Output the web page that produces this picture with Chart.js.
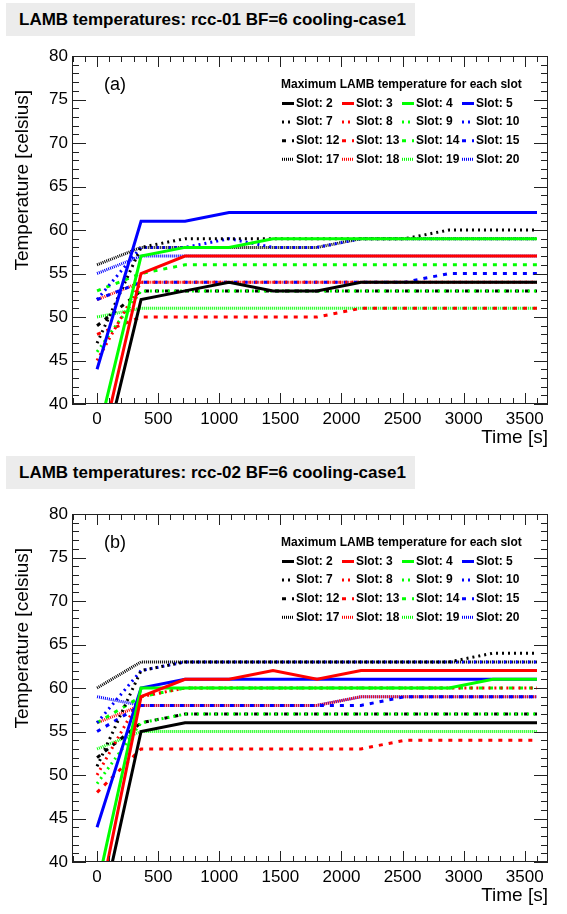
<!DOCTYPE html>
<html>
<head>
<meta charset="utf-8">
<script src="https://cdn.jsdelivr.net/npm/chart.js@4.4.1/dist/chart.umd.min.js"></script>
<style>
body { margin: 0; background: #fff; width: 567px; height: 914px; overflow: hidden; position: relative; }
.panel { position: absolute; left: 0; width: 567px; height: 457px; }
.ptitle { position: absolute; left: 6px; width: 409px; height: 33px; background: #ececec;
          font: bold 17px "Liberation Sans", Arial, sans-serif; line-height: 33px; padding-left: 13px; box-sizing: border-box; }
</style>
</head>
<body>
<div class="panel" style="top:0"><canvas id="chartA" width="567" height="457"></canvas></div>
<div class="panel" style="top:458px"><canvas id="chartB" width="567" height="457"></canvas></div>
<div class="ptitle" style="top:3px">LAMB temperatures: rcc-01 BF=6 cooling-case1</div>
<div class="ptitle" style="top:456px">LAMB temperatures: rcc-02 BF=6 cooling-case1</div>
<script>
// time axis (s) and slot numbers
const times = [0, 360, 720, 1080, 1440, 1800, 2160, 2520, 2880, 3240, 3600];
const slots = [2, 3, 4, 5, 7, 8, 9, 10, 12, 13, 14, 15, 17, 18, 19, 20];
const xTickLabels = [0, 500, 1000, 1500, 2000, 2500, 3000, 3500];
const yTickLabels = [40, 45, 50, 55, 60, 65, 70, 75, 80];

// rcc-01 (panel a)
const rcc01_s2  = [31, 52, 53, 54, 53, 53, 54, 54, 54, 54, 54];
const rcc01_s3  = [33, 55, 57, 57, 57, 57, 57, 57, 57, 57, 57];
const rcc01_s4  = [36, 57, 58, 58, 59, 59, 59, 59, 59, 59, 59];
const rcc01_s5  = [44, 61, 61, 62, 62, 62, 62, 62, 62, 62, 62];
const rcc01_s7  = [47, 58, 59, 59, 59, 59, 59, 59, 60, 60, 60];
const rcc01_s8  = [45, 54, 54, 54, 54, 54, 54, 54, 54, 54, 54];
const rcc01_s9  = [46, 53, 53, 53, 53, 53, 53, 53, 53, 53, 53];
const rcc01_s10 = [52, 58, 58, 59, 58, 58, 59, 59, 59, 59, 59];
const rcc01_s12 = [49, 53, 53, 53, 53, 53, 53, 53, 53, 53, 53];
const rcc01_s13 = [48, 50, 50, 50, 50, 50, 51, 51, 51, 51, 51];
const rcc01_s14 = [53, 55, 56, 56, 56, 56, 56, 56, 56, 56, 56];
const rcc01_s15 = [52, 54, 54, 54, 54, 54, 54, 54, 55, 55, 55];
const rcc01_s17 = [56, 58, 58, 58, 58, 58, 59, 59, 59, 59, 59];
const rcc01_s18 = [52, 54, 54, 54, 54, 54, 54, 54, 54, 54, 54];
const rcc01_s19 = [50, 51, 51, 51, 51, 51, 51, 51, 51, 51, 51];
const rcc01_s20 = [55, 57, 57, 57, 57, 57, 57, 57, 57, 57, 57];

// rcc-02 (panel b)
const rcc02_s2  = [32, 55, 56, 56, 56, 56, 56, 56, 56, 56, 56];
const rcc02_s3  = [34, 59, 61, 61, 62, 61, 62, 62, 62, 62, 62];
const rcc02_s4  = [37, 60, 60, 60, 60, 60, 60, 60, 60, 61, 61];
const rcc02_s5  = [44, 60, 61, 61, 61, 61, 61, 61, 61, 61, 61];
const rcc02_s7  = [51, 62, 63, 63, 63, 63, 63, 63, 63, 64, 64];
const rcc02_s8  = [50, 59, 60, 60, 60, 60, 60, 60, 60, 60, 60];
const rcc02_s9  = [49, 56, 57, 57, 57, 57, 57, 57, 57, 57, 57];
const rcc02_s10 = [56, 62, 63, 63, 63, 63, 63, 63, 63, 63, 63];
const rcc02_s12 = [52, 56, 57, 57, 57, 57, 57, 57, 57, 57, 57];
const rcc02_s13 = [48, 53, 53, 53, 53, 53, 53, 54, 54, 54, 54];
const rcc02_s14 = [56, 59, 60, 60, 60, 60, 60, 60, 60, 60, 60];
const rcc02_s15 = [55, 58, 58, 58, 58, 58, 58, 59, 59, 59, 59];
const rcc02_s17 = [60, 63, 63, 63, 63, 63, 63, 63, 63, 63, 63];
const rcc02_s18 = [56, 58, 58, 58, 58, 58, 59, 59, 59, 59, 59];
const rcc02_s19 = [53, 55, 55, 55, 55, 55, 55, 55, 55, 55, 55];
const rcc02_s20 = [59, 58, 58, 58, 58, 58, 59, 59, 59, 59, 59];

const rcc01 = [rcc01_s2, rcc01_s3, rcc01_s4, rcc01_s5, rcc01_s7, rcc01_s8, rcc01_s9, rcc01_s10,
               rcc01_s12, rcc01_s13, rcc01_s14, rcc01_s15, rcc01_s17, rcc01_s18, rcc01_s19, rcc01_s20];
const rcc02 = [rcc02_s2, rcc02_s3, rcc02_s4, rcc02_s5, rcc02_s7, rcc02_s8, rcc02_s9, rcc02_s10,
               rcc02_s12, rcc02_s13, rcc02_s14, rcc02_s15, rcc02_s17, rcc02_s18, rcc02_s19, rcc02_s20];

// styles: colour by column, dash by row of the legend
const colors = ['#000000', '#ff0000', '#00ff00', '#0000ff'];
const dashes = [[], [2, 4], [4, 6], [1, 1]];

const FONT = '"Liberation Sans", Helvetica, Arial, sans-serif';
Chart.defaults.font.family = FONT;
Chart.defaults.color = '#000';

// frame, inward ticks on all sides, axis titles, legend
const rootDecor = {
    id: 'rootDecor',
    afterDraw(chart, args, opts) {
        const ctx = chart.ctx;
        const a = chart.chartArea;
        const x = chart.scales.x, y = chart.scales.y;
        ctx.save();
        ctx.strokeStyle = '#222';
        ctx.lineWidth = 1;
        ctx.strokeRect(a.left + 0.5, a.top + 0.5, a.right - a.left - 1, a.bottom - a.top - 1);
        ctx.beginPath();
        for (let v = -200; v <= x.max; v += 100) {
            if (v < x.min) continue;
            const px = Math.round(x.getPixelForValue(v)) + 0.5;
            const len = v % 500 === 0 ? 11 : 6;
            ctx.moveTo(px, a.bottom); ctx.lineTo(px, a.bottom - len);
            ctx.moveTo(px, a.top); ctx.lineTo(px, a.top + len);
        }
        for (let v = y.min; v <= y.max; v += 1) {
            const py = Math.round(y.getPixelForValue(v)) + 0.5;
            const len = v % 5 === 0 ? 14 : 7;
            ctx.moveTo(a.left, py); ctx.lineTo(a.left + len, py);
            ctx.moveTo(a.right, py); ctx.lineTo(a.right - len, py);
        }
        ctx.stroke();

        // axis titles
        ctx.fillStyle = '#000';
        ctx.font = '19px ' + FONT;
        ctx.textAlign = 'right';
        ctx.textBaseline = 'middle';
        ctx.fillText('Time [s]', a.right, 438);
        ctx.save();
        ctx.translate(23, 90);
        ctx.rotate(-Math.PI / 2);
        ctx.textAlign = 'right';
        ctx.fillText('Temperature [celsius]', 0, 0);
        ctx.restore();

        // panel tag
        ctx.font = '18px ' + FONT;
        ctx.textAlign = 'left';
        ctx.fillText(opts.tag, 104, 85);

        // legend
        const top = 85;
        ctx.font = 'bold 12px ' + FONT;
        ctx.fillText('Maximum LAMB temperature for each slot', 281, top);
        chart.data.datasets.forEach((ds, i) => {
            const col = i % 4, row = Math.floor(i / 4);
            const ly = top + 18.5 + row * 18.6;
            const lx = 282 + col * 60;
            ctx.beginPath();
            ctx.strokeStyle = ds.borderColor;
            ctx.lineWidth = 3;
            ctx.setLineDash(ds.borderDash);
            ctx.moveTo(lx, ly); ctx.lineTo(lx + 12, ly);
            ctx.stroke();
            ctx.setLineDash([]);
            ctx.fillText(ds.label, lx + 14, ly);
        });
        ctx.restore();
    }
};

function makeChart(id, values, tag) {
    const datasets = values.map((vals, i) => ({
        label: 'Slot: ' + slots[i],
        data: times.map((t, k) => ({ x: t, y: vals[k] })),
        borderColor: colors[i % 4],
        borderDash: dashes[Math.floor(i / 4)],
        borderWidth: 3,
        pointRadius: 0,
        fill: false,
        tension: 0,
        clip: 0
    }));
    new Chart(document.getElementById(id), {
        type: 'line',
        data: { datasets: datasets },
        options: {
            responsive: false,
            animation: false,
            layout: { padding: { top: 56, right: 19, left: 0, bottom: 0 } },
            plugins: {
                legend: { display: false },
                tooltip: { enabled: false },
                rootDecor: { tag: tag }
            },
            scales: {
                x: {
                    type: 'linear',
                    min: -205,
                    max: 3690,
                    grid: { display: false, drawTicks: false },
                    border: { display: false },
                    afterBuildTicks: s => { s.ticks = xTickLabels.map(v => ({ value: v })); },
                    afterFit: s => { s.height = 53; },
                    ticks: { font: { size: 17 }, color: '#000', padding: 5, maxRotation: 0, autoSkip: false,
                             callback: v => String(v) }
                },
                y: {
                    min: 40,
                    max: 80,
                    grid: { display: false, drawTicks: false },
                    border: { display: false },
                    afterBuildTicks: s => { s.ticks = yTickLabels.map(v => ({ value: v })); },
                    afterFit: s => { s.width = 72; },
                    ticks: { font: { size: 17 }, color: '#000', padding: 4, callback: v => String(v) }
                }
            }
        },
        plugins: [rootDecor]
    });
}

makeChart('chartA', rcc01, '(a)');
makeChart('chartB', rcc02, '(b)');
</script>
</body>
</html>
